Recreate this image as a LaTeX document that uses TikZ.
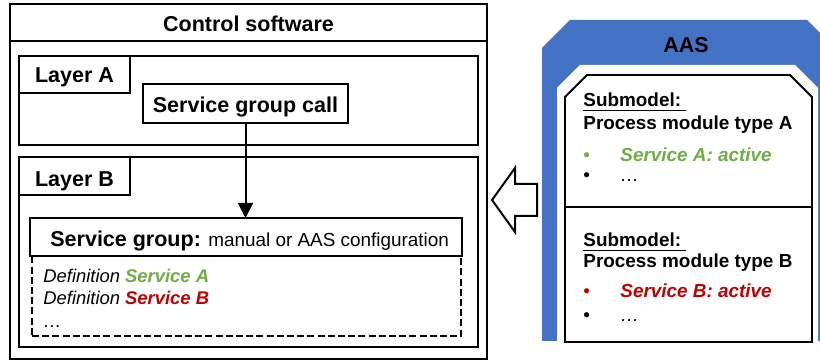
\documentclass[tikz,border=0pt]{standalone}
\usepackage{fontspec}
\setmainfont{Liberation Sans}
\usetikzlibrary{arrows.meta,fit}
\definecolor{aasblue}{HTML}{4472C4}
\definecolor{okgreen}{HTML}{70AD47}
\definecolor{errred}{HTML}{C00000}
\begin{document}
\begin{tikzpicture}[x=0.5pt,y=-0.5pt,
  frame/.style={draw=black, line width=0.75pt, inner sep=0pt, outer sep=0pt},
  dashframe/.style={frame, dash pattern=on 3.5pt off 1.6pt},
  big/.style={inner sep=0pt, font=\fontsize{10.75}{12}\selectfont\bfseries},
  mid/.style={inner sep=0pt, anchor=base west, font=\fontsize{9.45}{11}\selectfont},
  defn/.style={inner sep=0pt, anchor=base west, font=\fontsize{9.2}{11}\selectfont\itshape},
]
\clip (0,0) rectangle (820,362);
\fill[white] (0,0) rectangle (820,362);

% ---------------- control software ----------------
\node[frame, line width=1pt, fit={(10,4) (487,359)}] (cs) {};
\draw[line width=1pt] (cs.west |- 0,41) coordinate (csl) -- (cs.east |- 0,41) coordinate (csr);
\node[big, anchor=base] (cstitle) at (248.5,32) {Control software};

% layer A
\node[frame, fit={(19,56) (478,145)}] (la) {};
\node[frame, fit={(19,56) (130,93)}] (latab) {};
\node[big, anchor=base] (latext) at (74.5,83) {Layer A};
\node[frame, fit={(143,84) (348,123)}] (sgc) {};
\node[big, anchor=base] (sgctext) at (245.5,113) {Service group call};

% layer B
\node[frame, fit={(19,157) (478,347)}] (lb) {};
\node[frame, fit={(19,157) (130,195)}] (lbtab) {};
\node[big, anchor=base] (lbtext) at (74.5,187) {Layer B};

\node[dashframe, fit={(32,256) (461,336)}] (defs) {};
\node[frame, fit={(30,218) (462,256)}] (sg) {};
\node[inner sep=0pt, anchor=base west] (sgtext) at (50,247)
  {{\fontsize{10.75}{12}\selectfont\bfseries Service group:} \fontsize{9.45}{11}\selectfont manual or AAS configuration};
\node[defn] (defa) at (43,283) {Definition \textcolor{okgreen}{\bfseries Service A}};
\node[defn] (defb) at (43,305) {Definition \textcolor{errred}{\bfseries Service B}};
\node[defn] (defc) at (43,328) {…};

\draw[line width=1pt, -{Triangle[length=7.5pt,width=7.5pt]}] (sgc.south) -- (sgc.south |- sg.north);

% ---------------- asset administration shell ----------------
\fill[aasblue] (542,48) -- (570,20) -- (807,20) -- (835,48) -- (835,341) -- (542,341) -- cycle;
\fill[white] (557,88) -- (580,65) -- (795,65) -- (818,88) -- (818,350) -- (557,350) -- cycle;
\node[big, anchor=base] (aastitle) at (686,53) {AAS};

\draw[line width=0.9pt] (565,97) coordinate (smA) -- (587,75) -- (790,75) -- (812,97) -- (812,342) -- (565,342) -- cycle;
\draw[line width=0.9pt] (565,207) coordinate (divl) -- (812,207) coordinate (divr);

\node[mid, font=\fontsize{9.45}{11}\selectfont\bfseries] (smAhead) at (583,107) {\underline{Submodel:\ }};
\node[mid, font=\fontsize{9.45}{11}\selectfont\bfseries] (smAname) at (583,130) {Process module type A};
\node[mid, text=okgreen] (smAb1) at (583,162) {•};
\node[mid, text=okgreen, font=\fontsize{9.45}{11}\selectfont\bfseries\itshape] (smAs1) at (620,162) {Service A: active};
\node[mid] (smAb2) at (583,182) {•};
\node[mid, font=\fontsize{9.45}{11}\selectfont\itshape] (smAs2) at (620,182) {…};

\node[mid, font=\fontsize{9.45}{11}\selectfont\bfseries] (smBhead) at (583,247) {\underline{Submodel:\ }};
\node[mid, font=\fontsize{9.45}{11}\selectfont\bfseries] (smBname) at (583,268) {Process module type B};
\node[mid, text=errred] (smBb1) at (583,298) {•};
\node[mid, text=errred, font=\fontsize{9.45}{11}\selectfont\bfseries\itshape] (smBs1) at (620,298) {Service B: active};
\node[mid] (smBb2) at (583,322) {•};
\node[mid, font=\fontsize{9.45}{11}\selectfont\itshape] (smBs2) at (620,322) {…};

% hollow arrow from the AAS towards the control software
\draw[line width=1pt, fill=white, line join=miter]
  (492,200) coordinate (tip) -- (515,168) -- (515,184) -- (537,184) -- (537,216)
  -- (515,216) -- (515,232) -- cycle;
\end{tikzpicture}
\end{document}
